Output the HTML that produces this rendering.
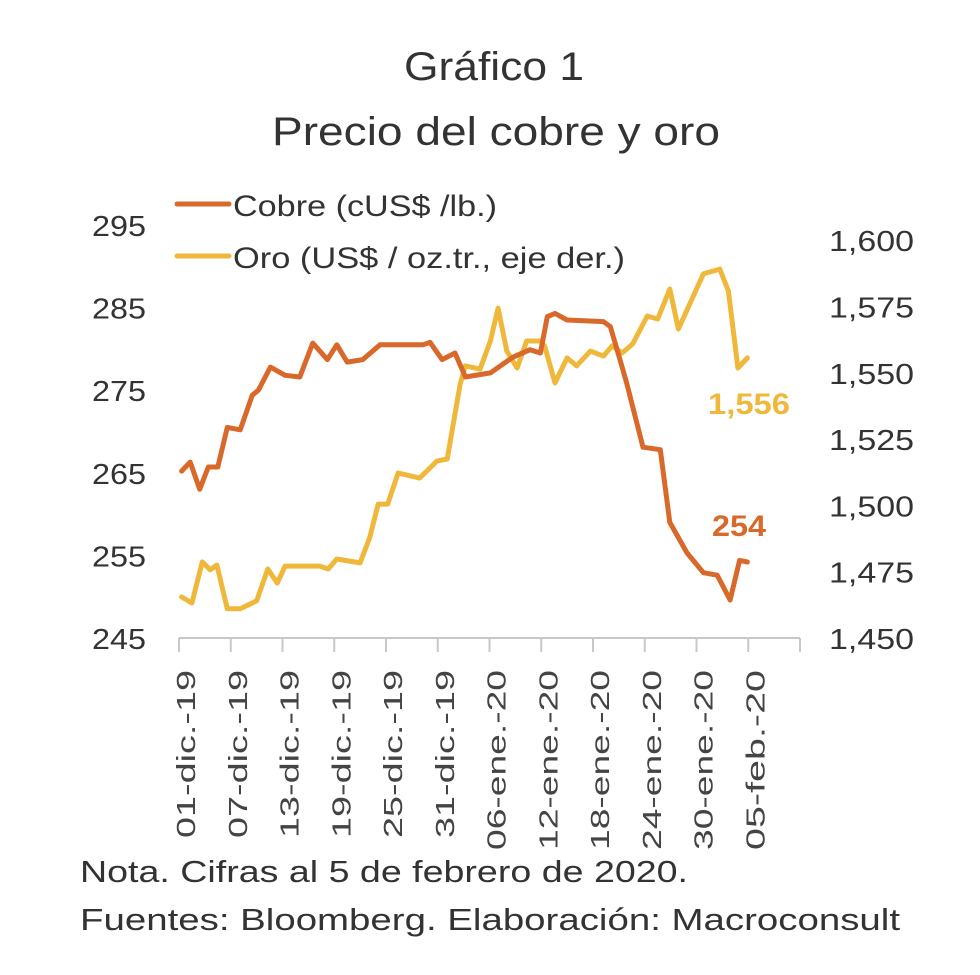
<!DOCTYPE html>
<html><head><meta charset="utf-8"><style>
html,body{margin:0;padding:0;background:#fff;}
svg{display:block;font-family:"Liberation Sans",sans-serif;}
</style></head><body>
<svg id="chart" width="980" height="975" viewBox="0 0 980 975" xmlns="http://www.w3.org/2000/svg">
<text x="494" y="80" font-size="40" fill="#333" text-anchor="middle" textLength="180" lengthAdjust="spacingAndGlyphs">Gráfico 1</text>
<text x="496" y="145" font-size="40" fill="#333" text-anchor="middle" textLength="448" lengthAdjust="spacingAndGlyphs">Precio del cobre y oro</text>
<g>
<line x1="177" y1="204" x2="229" y2="204" stroke="#d9692a" stroke-width="5" stroke-linecap="round"/>
<text x="233" y="216" font-size="30" fill="#333" textLength="264" lengthAdjust="spacingAndGlyphs">Cobre (cUS$ /lb.)</text>
<line x1="177" y1="256" x2="229" y2="256" stroke="#f0b83a" stroke-width="5" stroke-linecap="round"/>
<text x="233" y="268" font-size="30" fill="#333" textLength="392" lengthAdjust="spacingAndGlyphs">Oro (US$ / oz.tr., eje der.)</text>
</g>
<g id="axes"></g>
<g id="series"></g>
<text x="708" y="414" font-size="30" font-weight="bold" fill="#f0b83a" textLength="82" lengthAdjust="spacingAndGlyphs">1,556</text>
<text x="712" y="536" font-size="30" font-weight="bold" fill="#d9692a" textLength="54" lengthAdjust="spacingAndGlyphs">254</text>
<text x="80" y="882" font-size="31" fill="#333" textLength="608" lengthAdjust="spacingAndGlyphs">Nota. Cifras al 5 de febrero de 2020.</text>
<text x="80" y="930" font-size="31" fill="#333" textLength="820" lengthAdjust="spacingAndGlyphs">Fuentes: Bloomberg. Elaboración: Macroconsult</text>
</svg>
<script>
const xLabels = ["01-dic.-19","07-dic.-19","13-dic.-19","19-dic.-19","25-dic.-19","31-dic.-19","06-ene.-20","12-ene.-20","18-ene.-20","24-ene.-20","30-ene.-20","05-feb.-20"];
const leftTicks = [245,255,265,275,285,295];
const rightTicks = [1450,1475,1500,1525,1550,1575,1600];
const rightTickLabels = ["1,450","1,475","1,500","1,525","1,550","1,575","1,600"];
const cobreDays = [0.3,1.3,2.4,3.4,4.5,5.6,7.1,8.5,9.2,10.6,12.3,14,15.5,17.2,18.3,19.5,21.3,23.3,28.3,29.1,30.5,32,33.2,36.1,38.7,40.7,41.9,42.7,43.6,45,49.2,50,50.8,51.9,53.8,55.8,56.9,58.9,60.8,62.4,63.9,65,65.9];
const cobreVals = [265.2,266.3,263,265.7,265.7,270.5,270.2,274.4,275,277.8,276.8,276.6,280.7,278.7,280.5,278.4,278.7,280.5,280.5,280.8,278.7,279.5,276.6,277.1,279,279.9,279.5,283.9,284.3,283.5,283.3,282.7,279.9,275.9,268.1,267.8,259,255.3,252.9,252.6,249.6,254.4,254.2];
const oroDays = [0.3,1.5,2.7,3.6,4.4,5.6,7.1,9,10.3,11.4,12.3,16.3,17.3,18.3,21,22.1,23.1,24.2,25.4,27.9,29.9,31.1,32.6,33.2,34.9,36.1,37,38,39.2,40.3,41.9,42.4,43.6,45,46.1,47.7,49.2,50.2,51.4,52.6,54.3,55.5,56.9,57.9,60.8,62.7,63.7,64.8,65.9];
const oroVals = [1465.5,1463.2,1478.7,1475.7,1477.5,1461,1461,1464,1476,1470.7,1477.1,1477.1,1476,1479.8,1478.3,1487.7,1500.5,1500.5,1512.2,1510.3,1516.7,1517.5,1545.8,1552.6,1551.4,1562,1574.4,1558.2,1551.8,1562,1562,1560,1546.2,1555.6,1552.6,1558.2,1556.3,1560.1,1557.5,1560.9,1571.4,1570.3,1581.6,1566.5,1587.3,1589.1,1580.8,1551.8,1555.6];

const NS="http://www.w3.org/2000/svg";
const X0=179, DAYW=8.625, Y0=638;
const xs=d=>X0+d*DAYW;
const yL=v=>Y0-(v-245)*8.26;
const yR=v=>Y0-(v-1450)*2.652;
function mk(tag,attrs,parent,txt){const e=document.createElementNS(NS,tag);for(const k in attrs)e.setAttribute(k,attrs[k]);if(txt!==undefined)e.textContent=txt;parent.appendChild(e);return e;}
const axes=document.getElementById('axes');
const base=mk('line',{x1:X0,y1:Y0,x2:xs(72),y2:Y0,stroke:'#c8c8c8','stroke-width':2},axes);


for(let i=0;i<=xLabels.length;i++){
  const tx=xs(i*6);
  const t=mk('line',{x1:tx,y1:Y0,x2:tx,y2:Y0+14,stroke:'#c8c8c8','stroke-width':2},axes);
  
  
}
xLabels.forEach((lab,i)=>{
  const cx=xs(i*6)+16;
  const el=mk('text',{x:0,y:0,'font-size':26,fill:'#444','text-anchor':'end',transform:`translate(${cx},670) rotate(-90)`,textLength:lab.indexOf('dic')>=0?168:180,lengthAdjust:'spacingAndGlyphs'},axes,lab);
  
  
});
leftTicks.forEach(v=>{
  const el=mk('text',{x:146,y:yL(v)+11,'font-size':29,fill:'#333','text-anchor':'end',textLength:54,lengthAdjust:'spacingAndGlyphs'},axes,String(v));
  
  
});
rightTicks.forEach((v,i)=>{
  const el=mk('text',{x:829,y:yR(v)+11,'font-size':29,fill:'#333',textLength:85,lengthAdjust:'spacingAndGlyphs'},axes,rightTickLabels[i]);
  
  
});
const series=document.getElementById('series');
function pathOf(days,vals,yf){return days.map((d,i)=>(i?'L':'M')+xs(d).toFixed(1)+','+yf(vals[i]).toFixed(1)).join(' ');}
const oro=mk('path',{d:pathOf(oroDays,oroVals,yR),fill:'none',stroke:'#f0b83a','stroke-width':5,'stroke-linejoin':'round','stroke-linecap':'round'},series);


const cobre=mk('path',{d:pathOf(cobreDays,cobreVals,yL),fill:'none',stroke:'#d9692a','stroke-width':5,'stroke-linejoin':'round','stroke-linecap':'round'},series);


</script>
</body></html>
